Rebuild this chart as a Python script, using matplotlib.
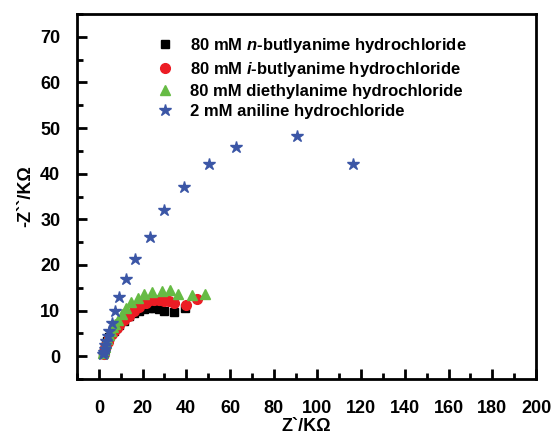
import matplotlib
matplotlib.use("Agg")
import matplotlib.pyplot as plt
from matplotlib.ticker import MultipleLocator

plt.rcParams['font.family'] = ['Liberation Sans', 'DejaVu Sans']
plt.rcParams['font.weight'] = 'bold'
plt.rcParams['mathtext.fontset'] = 'custom'
plt.rcParams['mathtext.it'] = 'Liberation Sans:italic:bold'
plt.rcParams['mathtext.rm'] = 'Liberation Sans:bold'

# n-butylamine (black squares)
nb_x = [2.0, 2.3, 2.7, 3.2, 3.8, 4.6, 5.6, 6.8, 8.0, 9.3, 11.4, 13.7, 16.0, 18.3, 20.6, 22.8, 25.0, 27.3, 29.9, 34.4, 39.6]
nb_y = [0.4, 1.0, 1.7, 2.5, 3.3, 4.1, 4.9, 5.6, 6.2, 6.9, 7.8, 8.8, 9.5, 9.9, 10.3, 10.5, 10.5, 10.3, 9.9, 9.6, 10.6]

# i-butylamine (red circles)
ib_x = [2.2, 2.5, 2.9, 3.4, 4.0, 4.8, 5.8, 7.0, 8.1, 9.3, 11.6, 13.9, 16.1, 18.4, 21.5, 23.5, 25.0, 27.3, 29.6, 31.9, 34.4, 39.8, 44.8]
ib_y = [0.4, 1.0, 1.7, 2.4, 3.2, 4.0, 4.8, 5.6, 6.2, 6.9, 7.9, 8.8, 9.9, 10.8, 11.7, 12.3, 12.4, 12.3, 12.1, 12.0, 11.6, 11.2, 12.6]

# diethylamine (green triangles)
de_x = [2.0, 2.3, 2.7, 3.2, 3.8, 4.5, 5.4, 6.4, 7.5, 8.8, 10.4, 12.3, 14.6, 17.7, 20.7, 24.5, 28.8, 32.5, 36.0, 42.5, 48.5]
de_y = [0.6, 1.3, 2.1, 2.9, 3.8, 4.6, 5.5, 6.3, 7.0, 7.9, 9.3, 10.6, 11.8, 12.8, 13.6, 14.1, 14.3, 14.4, 13.7, 13.4, 13.7]

# aniline (blue stars)
an_x = [2.1, 2.3, 2.6, 3.0, 3.4, 4.0, 4.7, 5.8, 7.5, 9.4, 12.5, 16.6, 23.3, 29.9, 38.9, 50.4, 62.6, 90.8, 116.4]
an_y = [0.4, 0.9, 1.6, 2.4, 3.3, 4.4, 5.6, 7.3, 9.8, 13.0, 16.9, 21.4, 26.1, 32.0, 37.0, 42.2, 45.8, 48.3, 42.2]

labels = [r"80 mM $\it{n}$-butlyanime hydrochloride",
          r"80 mM $\it{i}$-butlyanime hydrochloride",
          "80 mM diethylanime hydrochloride",
          "2 mM aniline hydrochloride"]

fig = plt.figure(figsize=(5.54, 4.34), dpi=100)
ax = fig.add_axes([77/554, 1-379/434, (536-77)/554, (379-14)/434])

ax.plot(nb_x, nb_y, 's', color='black', ms=6, ls='none', label=labels[0])
ax.plot(ib_x, ib_y, 'o', color='#ec1c24', ms=7, ls='none', label=labels[1])
ax.plot(de_x, de_y, '^', color='#66bb44', ms=7.5, ls='none', label=labels[2])
ax.plot(an_x, an_y, '*', color='#3b56a6', ms=9, ls='none', label=labels[3])

ax.set_xlim(-10, 200)
ax.set_ylim(-5, 75)
ax.xaxis.set_major_locator(MultipleLocator(20))
ax.xaxis.set_minor_locator(MultipleLocator(10))
ax.yaxis.set_major_locator(MultipleLocator(10))
ax.yaxis.set_minor_locator(MultipleLocator(5))
ax.tick_params(which='both', direction='in', top=False, right=False, width=2)
ax.tick_params(which='major', length=7, labelsize=13)
ax.tick_params(axis='x', which='major', pad=15)
ax.tick_params(axis='y', which='major', pad=12)
ax.tick_params(which='minor', length=4)
for lab in ax.get_xticklabels() + ax.get_yticklabels():
    lab.set_fontweight('bold')
for s in ax.spines.values():
    s.set_linewidth(2)

ax.set_xlabel("Z`/K\u03a9", fontsize=13, fontweight='bold', labelpad=1)
ax.set_ylabel("-Z``/K\u03a9", fontsize=13, fontweight='bold', labelpad=4)

leg = ax.legend(loc='upper left', bbox_to_anchor=(0.155, 0.962), frameon=False,
                prop={'size': 12, 'weight': 'bold'}, handlelength=1.0,
                handletextpad=1.0, labelspacing=0.3, borderpad=0)

fig.savefig("out.png", dpi=100)
